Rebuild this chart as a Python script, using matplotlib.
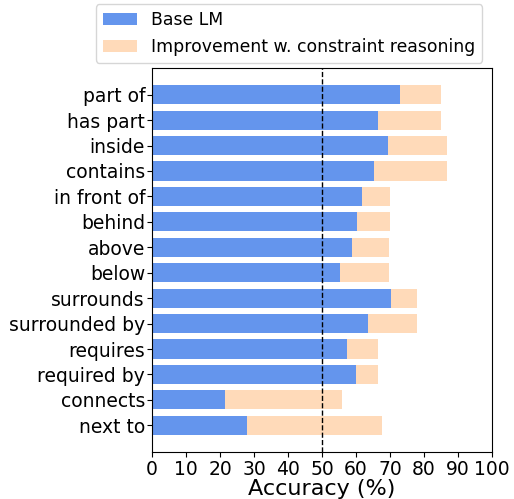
import matplotlib
matplotlib.use("Agg")
import matplotlib.pyplot as plt

categories = ["part of", "has part", "inside", "contains", "in front of", "behind",
              "above", "below", "surrounds", "surrounded by", "requires",
              "required by", "connects", "next to"]
base = [72.8, 66.4, 69.4, 65.3, 61.9, 60.3, 58.9, 55.3, 70.2, 63.5, 57.4, 59.9, 21.5, 27.9]
total = [84.9, 84.9, 86.7, 86.7, 70.0, 70.0, 69.8, 69.8, 77.9, 77.9, 66.6, 66.6, 56.0, 67.6]
improvement = [t - b for t, b in zip(total, base)]
xticks = list(range(0, 101, 10))

fig = plt.figure(figsize=(5.14, 4.99), dpi=100)
ax = fig.add_axes([152 / 514, 1 - 452 / 499, 340 / 514, 384 / 499])

ypos = list(range(len(categories)))[::-1]
ax.barh(ypos, base, height=0.75, color="cornflowerblue", label="Base LM")
ax.barh(ypos, improvement, left=base, height=0.75, color="peachpuff",
        label="Improvement w. constraint reasoning")
ax.axvline(50, color="black", linestyle="--", linewidth=1)

ax.set_yticks(ypos)
ax.set_yticklabels(categories, fontsize=13.5)
ax.set_xticks(xticks)
ax.set_xticklabels([str(x) for x in xticks], fontsize=13.5)
ax.tick_params(axis="y", length=3.5, pad=1.5)
ax.tick_params(axis="x", length=3.5, pad=2)
ax.set_xlim(0, 100)
ax.set_ylim(-1.05, 14.05)
ax.set_xlabel("Accuracy (%)", fontsize=16, labelpad=0)

handles, labels = ax.get_legend_handles_labels()
fig.legend(handles, labels, loc="center", bbox_to_anchor=(289 / 514, 1 - 33.5 / 499),
           fontsize=12.4, frameon=True, handlelength=2.0)

fig.savefig("out.png", dpi=100)
